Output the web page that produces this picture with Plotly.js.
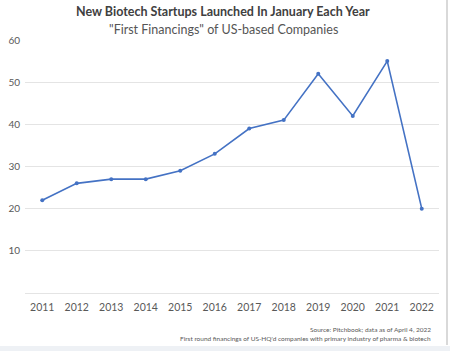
<!DOCTYPE html>
<html>
<head>
<meta charset="utf-8">
<script src="https://cdn.plot.ly/plotly-3.0.1.min.js"></script>
<style>html,body{margin:0;padding:0;background:#fff;}#chart{width:450px;height:351px;}</style>
</head>
<body>
<div id="chart"></div>
<script>
const years = ["2011","2012","2013","2014","2015","2016","2017","2018","2019","2020","2021","2022"];
const startups = [22, 26, 27, 27, 29, 33, 39, 41, 52, 42, 55, 20];
const yTicks = [0, 10, 20, 30, 40, 50, 60];
const yTickLabels = ["", "10", "20", "30", "40", "50", "60"];
const titleLine1 = "<b>New Biotech Startups Launched In January Each Year</b>";
const titleLine2 = "\"First Financings\" of US-based Companies";
const sourceLine1 = "Source: Pitchbook; data as of April 4, 2022";
const sourceLine2 = "First round financings of US-HQ'd companies with primary industry of pharma & biotech";

const L = 25, R = 439, T = 40, B = 293;
const W = R - L, H = B - T;
const px = v => (v - L) / W;
const py = v => (B - v) / H;

const trace = {
  x: years, y: startups, type: "scatter", mode: "lines+markers",
  line: {color: "#4472C4", width: 1.6},
  marker: {color: "#4472C4", size: 4},
  hoverinfo: "skip"
};
const layout = {
  width: 450, height: 351,
  margin: {l: L, r: 450 - R, t: T, b: 351 - B},
  paper_bgcolor: "#fff", plot_bgcolor: "#fff",
  font: {family: "Lato, 'Open Sans', sans-serif", color: "#595959", size: 10},
  showlegend: false,
  xaxis: {type: "category", range: [-0.5, 11.5], showgrid: false, zeroline: false,
          showline: false, ticks: "", tickfont: {size: 10.5, color: "#595959"}, ticklabelstandoff: 6},
  yaxis: {range: [0, 60], tickvals: yTicks, ticktext: yTickLabels, showgrid: true,
          gridcolor: "#e4e4e4", gridwidth: 1, zeroline: true, zerolinecolor: "#e4e4e4", zerolinewidth: 1,
          showline: false, ticks: "",
          tickfont: {size: 10, color: "#595959"}, ticklabelstandoff: 4},
  annotations: [
    {text: titleLine1, xref: "paper", yref: "paper", x: px(223), y: py(12),
     xanchor: "center", yanchor: "middle", showarrow: false,
     font: {size: 12.5, color: "#404040"}},
    {text: titleLine2, xref: "paper", yref: "paper", x: px(223), y: py(29),
     xanchor: "center", yanchor: "middle", showarrow: false,
     font: {size: 12.5, color: "#555555"}},
    {text: sourceLine1, xref: "paper", yref: "paper", x: px(433), y: py(329),
     xanchor: "right", yanchor: "middle", showarrow: false, font: {size: 6.5, color: "#595959"}},
    {text: sourceLine2, xref: "paper", yref: "paper", x: px(433), y: py(338),
     xanchor: "right", yanchor: "middle", showarrow: false, font: {size: 6.5, color: "#595959"}}
  ],
  shapes: [
    {type: "line", xref: "paper", yref: "paper", x0: px(447), x1: px(447),
     y0: py(345), y1: py(0), line: {color: "#d9d9d9", width: 2}},
    {type: "rect", xref: "paper", yref: "paper", x0: px(0), x1: px(450),
     y0: py(351), y1: py(346), fillcolor: "#eef1f5", line: {width: 0}}
  ]
};
Plotly.newPlot("chart", [trace], layout, {displayModeBar: false, staticPlot: true});
</script>
</body>
</html>
